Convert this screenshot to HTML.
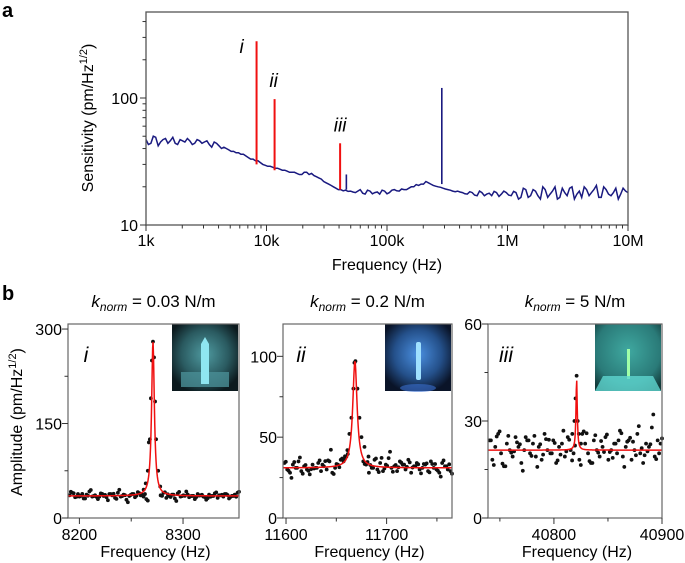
<!DOCTYPE html>
<html><head><meta charset="utf-8">
<style>
body{margin:0;background:#fff;}
svg{display:block;font-family:"Liberation Sans",Arial,sans-serif;}
</style></head>
<body>
<svg id="fig" width="685" height="563" viewBox="0 0 685 563" xmlns="http://www.w3.org/2000/svg">
<defs>
<radialGradient id="g1" cx="0.5" cy="0.45" r="0.6"><stop offset="0" stop-color="#4f9aa0"/><stop offset="0.6" stop-color="#2a5a60"/><stop offset="1" stop-color="#0c1a1e"/></radialGradient>
<radialGradient id="g2" cx="0.5" cy="0.45" r="0.6"><stop offset="0" stop-color="#4a8fe0"/><stop offset="0.6" stop-color="#24508a"/><stop offset="1" stop-color="#0a1428"/></radialGradient>
<radialGradient id="g3" cx="0.5" cy="0.4" r="0.7"><stop offset="0" stop-color="#3fa8a0"/><stop offset="0.7" stop-color="#2a7a78"/><stop offset="1" stop-color="#123a3a"/></radialGradient>
</defs>
</svg>
<script>
// ---- Panel a data ----
const specLogStart = 3, specLogEnd = 7;
const specValues = [47,44,49,45,48,46,44,47,45,46,44,46,45,43,45,42,
41,39,38,37,36,34,33,32,30,29,
28.5,28,27,26.5,26,25.5,25,26,25.5,
24,23,21.5,20.5,19.5,19,18.8,18.5,
18,19,17.5,18.5,18,17.5,18.5,18,19,18.5,19,19.5,20,20.5,21,21.5,
20.5,20,19.5,19,18.5,18.5,
18,17.5,18,17,18,17.5,17,18,17.5,18,17,
18,16.5,19,17,18.5,16,19,17.5,20,16.5,18,19.5,16,18.5,20,17,19,16.5,20,17.5,18,16,19.5,18];
const specMid = [43,50,42,47,44,49,43,46,48,43,47,44,46,41,44,40,
40,38,37,36,35,33,32,31,29.5,29,
28,27.5,27,26,26,25,26,25,24.5,
23.5,22,21,20,19,18.6,18.4,18.2,
18.5,17.8,18.8,17.6,18.2,18.8,17.6,18.8,18.6,19.2,19,20,20.8,21,22,21,
20.2,19.8,19.2,18.8,18.3,18.2,
17.6,18.3,17.2,18.5,17,17.8,18.4,16.8,18.5,17.2,18.4,
16,19.5,16.5,19,17,20,16.5,18.5,16,19.5,17,20,17.5,16.5,19,18,20.5,16.5,19,17,19.5,17.5,18.5];
const bluePeakFreqs = [46000, 285000];
const bluePeakBase = [19, 21];
const bluePeakVals = [25, 120];
const redFreqs = [8270, 11670, 40820];
const redBase = [30, 27, 19];
const redTops = [280, 98, 44];
const redLabels = ["i","ii","iii"];
const aXTicks = [1e3,1e4,1e5,1e6,1e7];
const aXLabels = ["1k","10k","100k","1M","10M"];
const aYTicks = [10,100];

// ---- Panel b data ----
const bNoise1 = [36,40,33,38,35,31,37,42,34,36,30,39,35,33,38,36,32,40,34,37,29,35,38,33,41,36,34,30,37,35,
38,33,36,40,32,35,37,31,39,34,36,42,33,35,30,38,36,34,29,37,35,39,32,36,34,38,31,35,37,40];
const bPeak1F = [8262,8264,8266,8267,8268,8269,8270,8271,8272,8273,8274,8276,8278];
const bPeak1A = [45,55,75,120,125,190,250,280,255,185,125,75,50];
const bNoise2 = [34,30,28,33,31,35,29,32,30,27,33,31,34,29,32,30,35,28,31,33,
36,35,38,40,30,34,29,32,35,33,28,31,36,30,34,29,33,37,31,32,29,35,33,30,36,28,32,34,30,31,33,29,35,31,30,28,34,32,30,29];
const bPeak2F = [11658,11661,11663,11665,11667,11668,11669,11671,11673,11675,11678,11682];
const bPeak2A = [36,42,52,62,80,96,97,80,62,50,44,38];
const bNoise3 = [24,18,22,26,20,16,23,21,19,25,22,17,21,24,20,23,19,22,18,26,21,20,24,17,22,23,19,25,21,20,
22,18,26,23,20,17,24,21,19,22,25,18,21,23,20,27,19,22,24,18,21,26,20,17,23,22,28,19,24,23];
const bPeak3F = [40817,40819,40820,40821,40822,40823,40825];
const bPeak3A = [26,30,37,44,30,26,23];
const fitF0 = [8271, 11668.5, 40821];
const fitHW = [1.6, 2.6, 0.7];
const fitAmp = [245, 66, 22];
const fitBase = [35, 31, 21];
const bX0 = [8189, 11597, 40739];
const bX1 = [8354, 11765, 40900];
const bYMax = [308, 120, 60];
const bXTicks = [[8200,8300],[11600,11700],[40800,40900]];
const bXMinor = [[8250],[11650,11750],[40750,40850]];
const bYTicks = [[0,150,300],[0,50,100],[0,30,60]];
const bYMinor = [[75,225],[25,75],[15,45]];
const bTitles = ["0.03 N/m","0.2 N/m","5 N/m"];
const bRoman = ["i","ii","iii"];

const NS="http://www.w3.org/2000/svg";
const svg=document.getElementById('fig');
function mk(tag,attrs,parent){const e=document.createElementNS(NS,tag);for(const k in attrs)e.setAttribute(k,attrs[k]);(parent||svg).appendChild(e);return e;}

// ---- panel a ----
const aL=146,aR=628,aT=12,aB=225;
const ax=f=>aL+(Math.log10(f)-3)/4*(aR-aL);
const ay=v=>aB-(Math.log10(v)-1)*127;
let lab=mk('text',{x:2,y:17,'font-size':20,'font-weight':'bold'});lab.textContent='a';


let ga=mk('g',{});


let clip=mk('clipPath',{id:'ca'},ga);mk('rect',{x:aL,y:aT,width:aR-aL,height:aB-aT},clip);
let d='';
const nS=specValues.length;
const step=(specLogEnd-specLogStart)/(nS-1);
specValues.forEach((v,i)=>{const lf=specLogStart+step*i;d+=(i?'L':'M')+(ax(Math.pow(10,lf))).toFixed(1)+','+ay(v).toFixed(1);
 if(i<specMid.length){const lm=lf+step/2;d+='L'+(ax(Math.pow(10,lm))).toFixed(1)+','+ay(specMid[i]).toFixed(1);}});
let sp=mk('path',{d:d,fill:'none',stroke:'#1a1a80','stroke-width':1.5,'clip-path':'url(#ca)'},ga);


bluePeakFreqs.forEach((f,i)=>{let l=mk('line',{x1:ax(f),x2:ax(f),y1:ay(bluePeakBase[i]),y2:ay(bluePeakVals[i]),stroke:'#1a1a80','stroke-width':1.6},ga);

});
const lblDx=[-15,-1,0], lblDy=[12,-12,-12];
redFreqs.forEach((f,i)=>{let l=mk('line',{x1:ax(f),x2:ax(f),y1:ay(redBase[i]),y2:ay(redTops[i]),stroke:'#f01010','stroke-width':2},ga);


let t=mk('text',{x:ax(f)+lblDx[i],y:ay(redTops[i])+lblDy[i],'font-size':19,'font-style':'italic','text-anchor':'middle'},ga);t.textContent=redLabels[i];

});
mk('rect',{x:aL,y:aT,width:aR-aL,height:aB-aT,fill:'none',stroke:'#555','stroke-width':1.3},ga);
aXTicks.forEach((f,i)=>{mk('line',{x1:ax(f),x2:ax(f),y1:aB,y2:aB+6,stroke:'#333'},ga);
let t=mk('text',{x:ax(f),y:aB+21,'font-size':16,'text-anchor':'middle'},ga);t.textContent=aXLabels[i];


if(i<4)for(let k=2;k<10;k++){mk('line',{x1:ax(f*k),x2:ax(f*k),y1:aB,y2:aB+3.5,stroke:'#333'},ga);}});
aYTicks.forEach(v=>{mk('line',{x1:aL-6,x2:aL,y1:ay(v),y2:ay(v),stroke:'#333'},ga);
let t=mk('text',{x:aL-8,y:ay(v)+6,'font-size':16,'text-anchor':'end'},ga);t.textContent=v;

});
[10,100].forEach(b=>{for(let k=2;k<10;k++){if(b*k<480)mk('line',{x1:aL-3.5,x2:aL,y1:ay(b*k),y2:ay(b*k),stroke:'#333'},ga);}});
let xt=mk('text',{x:387,y:270,'font-size':16,'text-anchor':'middle'},ga);xt.textContent='Frequency (Hz)';


let yt=mk('text',{transform:'translate(93,118) rotate(-90)','font-size':16,'text-anchor':'middle'},ga);
yt.innerHTML='Sensitivity (pm/Hz<tspan font-size="11" dy="-6">1/2</tspan><tspan dy="6">)</tspan>';



// ---- panel b ----
let lb=mk('text',{x:2,y:300,'font-size':20,'font-weight':'bold'});lb.textContent='b';


const boxes=[[68,239],[283,452],[488,662]];
const bT=324,bB=518;
const noises=[bNoise1,bNoise2,bNoise3];
const pF=[bPeak1F,bPeak2F,bPeak3F],pA=[bPeak1A,bPeak2A,bPeak3A];
const grads=['g1','g2','g3'];
for(let p=0;p<3;p++){
 const [L,R]=boxes[p];
 const g=mk('g',{});
 
 
 const bx=f=>L+(f-bX0[p])/(bX1[p]-bX0[p])*(R-L);
 const by=v=>bB-v/bYMax[p]*(bB-bT);
 let t=mk('text',{x:(L+R)/2,y:307,'font-size':17,'text-anchor':'middle'},g);
 t.innerHTML='<tspan font-style="italic">k</tspan><tspan font-style="italic" font-size="12" dy="4">norm</tspan><tspan dy="-4"> = '+bTitles[p]+'</tspan>';
 
 
 const ix=R-67;
 let ins=mk('g',{},g);
 
 
 mk('rect',{x:ix,y:bT,width:66,height:67,fill:'url(#'+grads[p]+')'},ins);
 if(p==0){mk('rect',{x:ix+9,y:bT+48,width:48,height:15,fill:'#4a8e96',opacity:0.8},ins);mk('path',{d:`M${ix+29},${bT+60}V${bT+20}L${ix+33},${bT+13}L${ix+37},${bT+20}V${bT+60}Z`,fill:'#8fe6f0'},ins);}
 if(p==1){mk('rect',{x:ix+31,y:bT+18,width:5,height:38,rx:2,fill:'#9fe0ff'},ins);mk('ellipse',{cx:ix+33,cy:bT+64,rx:18,ry:4,fill:'#3a70d0',opacity:0.6},ins);}
 if(p==2){mk('rect',{x:ix+32,y:bT+25,width:3,height:30,fill:'#a0ffa8'},ins);mk('path',{d:`M${ix+8},${bT+52}H${ix+58}L${ix+66},${bT+67}H${ix}Z`,fill:'#5fd6cf',opacity:0.8},ins);}
 let cp=mk('clipPath',{id:'cb'+p},g);mk('rect',{x:L,y:bT,width:R-L,height:bB-bT},cp);
 const nz=noises[p];
 nz.forEach((v,i)=>{const f=bX0[p]+ (bX1[p]-bX0[p])*(i+0.5)/nz.length;
  if(Math.abs(f-fitF0[p])<fitHW[p]*3)return;
  let c=mk('circle',{cx:bx(f),cy:by(v),r:1.9,fill:'#111'},g);
  
  
  let c2=mk('circle',{cx:bx(f)+(R-L)/nz.length/2,cy:by(v+(nz[(i+7)%nz.length]-fitBase[p])*0.8),r:1.9,fill:'#111'},g);
  
  });
 pF[p].forEach((f,i)=>{let c=mk('circle',{cx:bx(f),cy:by(pA[p][i]),r:1.9,fill:'#111'},g);
  
  });
 let fd='';
 for(let k=0;k<=400;k++){const f=bX0[p]+(bX1[p]-bX0[p])*k/400;const u=(f-fitF0[p])/fitHW[p];const v=fitBase[p]+fitAmp[p]/(1+u*u);fd+=(k?'L':'M')+bx(f).toFixed(2)+','+by(v).toFixed(2);}
 let fp=mk('path',{d:fd,fill:'none',stroke:'#f01010','stroke-width':1.5,'clip-path':'url(#cb'+p+')'},g);
 
 
 mk('rect',{x:L,y:bT,width:R-L,height:bB-bT,fill:'none',stroke:'#666','stroke-width':1.2},g);
 let rl=mk('text',{x:L+18,y:bT+38,'font-size':21,'font-style':'italic','text-anchor':'middle'},g);rl.textContent=bRoman[p];
 
 
 bXTicks[p].forEach(f=>{mk('line',{x1:bx(f),x2:bx(f),y1:bB,y2:bB+6,stroke:'#333'},g);
  let tl=mk('text',{x:bx(f),y:bB+22,'font-size':16,'text-anchor':'middle'},g);tl.textContent=f;
  
  });
 bXMinor[p].forEach(f=>mk('line',{x1:bx(f),x2:bx(f),y1:bB,y2:bB+3.5,stroke:'#333'},g));
 bYTicks[p].forEach(v=>{mk('line',{x1:L-6,x2:L,y1:by(v),y2:by(v),stroke:'#333'},g);
  let tl=mk('text',{x:L-6,y:by(v)+6,'font-size':16,'text-anchor':'end'},g);tl.textContent=v;
  
  });
 bYMinor[p].forEach(v=>mk('line',{x1:L-3.5,x2:L,y1:by(v),y2:by(v),stroke:'#333'},g));
 let xl=mk('text',{x:(L+R)/2+2,y:557,'font-size':16,'text-anchor':'middle'},g);xl.textContent='Frequency (Hz)';
 
 
}
let by2=mk('text',{transform:'translate(22,422) rotate(-90)','font-size':16,'text-anchor':'middle'});
by2.innerHTML='Amplitude (pm/Hz<tspan font-size="11" dy="-6">1/2</tspan><tspan dy="6">)</tspan>';


</script>
</body></html>
